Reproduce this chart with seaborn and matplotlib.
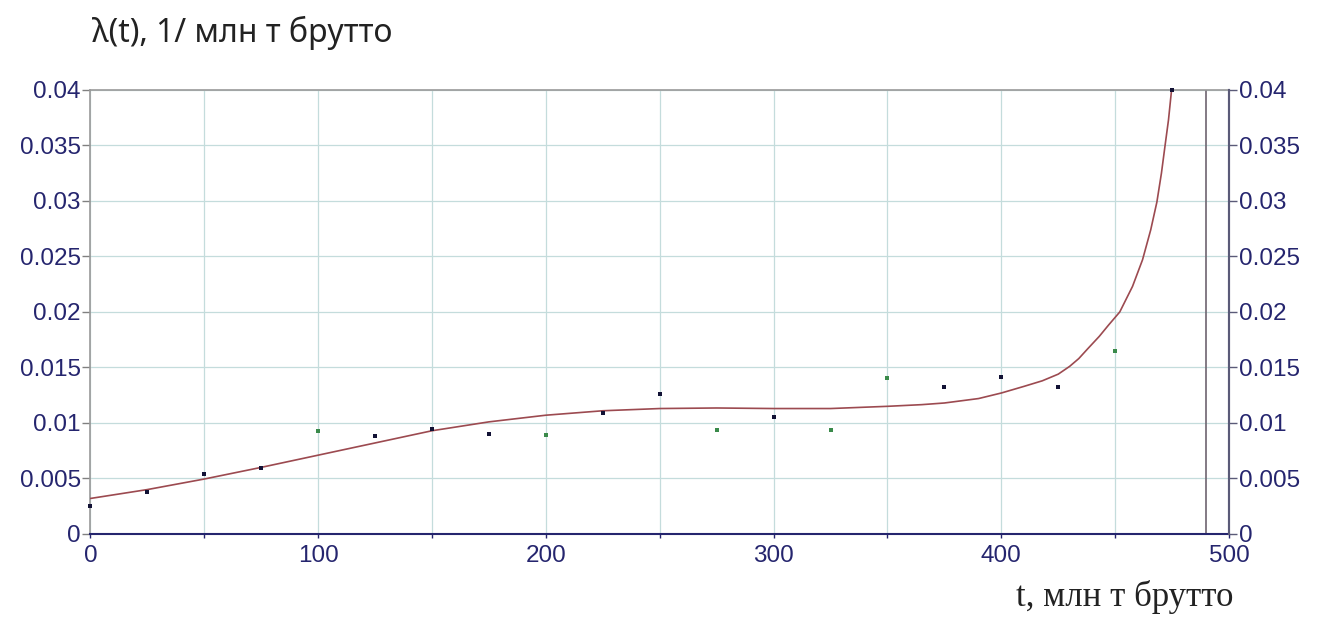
import matplotlib
matplotlib.use("Agg")
import matplotlib.pyplot as plt
import seaborn as sns
import pandas as pd

# Observed points (dark series)
t_dark = [0, 25, 50, 75, 125, 150, 175, 225, 250, 300, 375, 400, 425, 475]
lam_dark = [0.00252, 0.00376, 0.00543, 0.00592, 0.00883, 0.00943, 0.00898,
            0.0109, 0.01259, 0.01051, 0.01322, 0.01417, 0.01322, 0.0400]
# Observed points (green series)
t_green = [100, 200, 275, 325, 350, 450]
lam_green = [0.00931, 0.00889, 0.00934, 0.00934, 0.01403, 0.01652]

# Fitted curve
t_fit = [0, 25, 50, 75, 100, 125, 150, 175, 200, 225, 250, 275, 300, 325, 350,
         365, 375, 390, 400, 410, 418, 425, 430, 434, 438, 443, 447, 452,
         457.6, 462, 465.6, 468.3, 470.3, 471.9, 473.4, 474.7]
lam_fit = [0.0032, 0.0040, 0.00495, 0.0060, 0.0071, 0.0082, 0.0093, 0.0101,
           0.0107, 0.0111, 0.0113, 0.01135, 0.0113, 0.0113, 0.0115, 0.01165,
           0.0118, 0.0122, 0.0127, 0.0133, 0.0138, 0.0144, 0.0151, 0.0158,
           0.0167, 0.0178, 0.0188, 0.0200, 0.0223, 0.0247, 0.0274, 0.0299,
           0.0325, 0.0350, 0.0373, 0.0399]

x_ticks = [0, 50, 100, 150, 200, 250, 300, 350, 400, 450, 500]
x_labels = ["0", "", "100", "", "200", "", "300", "", "400", "", "500"]
y_ticks = [0, 0.005, 0.01, 0.015, 0.02, 0.025, 0.03, 0.035, 0.04]
y_labels = ["0", "0.005", "0.01", "0.015", "0.02", "0.025", "0.03", "0.035", "0.04"]
asymptote_t = 490

title_text = "λ(t), 1/ млн т брутто"
xlabel_text = "t, млн т брутто"

sns.set_theme(style="white")
plt.rcParams['font.family'] = ['Liberation Sans', 'DejaVu Sans']

navy = "#25256e"
grid_c = "#c4dcdc"

fig = plt.figure(figsize=(13.28, 6.23), dpi=100)
ax = fig.add_axes([0.0681, 0.1429, 0.8574, 0.7127])

df_fit = pd.DataFrame({"t": t_fit, "lam": lam_fit})
df_dark = pd.DataFrame({"t": t_dark, "lam": lam_dark})
df_green = pd.DataFrame({"t": t_green, "lam": lam_green})

ax.set_xlim(0, 500)
ax.set_ylim(0, 0.04)
ax.set_xticks(x_ticks)
ax.set_xticklabels(x_labels)
ax.set_yticks(y_ticks)
ax.set_yticklabels(y_labels)
ax.grid(True, color=grid_c, linewidth=0.9)
ax.set_axisbelow(True)

ax.axvline(asymptote_t, color="#6e6470", linewidth=1.2, zorder=2)

sns.lineplot(data=df_fit, x="t", y="lam", ax=ax, color="#9c4a50",
             linewidth=1.2, zorder=3)
sns.scatterplot(data=df_dark, x="t", y="lam", ax=ax, color="#121235",
                marker="s", s=10, linewidth=0, zorder=4, clip_on=False)
sns.scatterplot(data=df_green, x="t", y="lam", ax=ax, color="#3a8a4a",
                marker="s", s=10, linewidth=0, zorder=4)

ax.set_xlabel("")
ax.set_ylabel("")

for side in ["top", "left"]:
    ax.spines[side].set_color("#9a9a9a")
    ax.spines[side].set_linewidth(1.2)
ax.spines["bottom"].set_color(navy)
ax.spines["bottom"].set_linewidth(1.5)
ax.spines["right"].set_color("#5a5a78")
ax.spines["right"].set_linewidth(1.5)

ax.tick_params(axis="y", which="both", left=True, length=6, width=1,
               color="#808080", labelsize=17.5, labelcolor=navy, pad=1)
ax.tick_params(axis="x", which="both", bottom=True, length=3, width=1,
               color=navy, labelsize=17.5, labelcolor=navy, pad=5)

ax2 = ax.twinx()
ax2.set_ylim(0, 0.04)
ax2.set_yticks(y_ticks)
ax2.set_yticklabels(y_labels)
ax2.tick_params(axis="y", right=True, length=6, width=1, color="#5a5a78",
                labelsize=17.5, labelcolor=navy, pad=1)
for side in ["top", "left", "bottom"]:
    ax2.spines[side].set_visible(False)
ax2.spines["right"].set_color("#5a5a78")
ax2.spines["right"].set_linewidth(1.5)
ax2.grid(False)

fig.text(92 / 1328, 1 - 33 / 623, title_text, fontsize=23, color="#222222",
         family=["Noto Sans", "DejaVu Sans"], ha="left", va="center")
fig.text(1233 / 1328, 1 - 597 / 623, xlabel_text, fontsize=25, color="#222222",
         family=["Liberation Serif", "DejaVu Serif"], ha="right", va="center")

fig.savefig("out.png", dpi=100)
